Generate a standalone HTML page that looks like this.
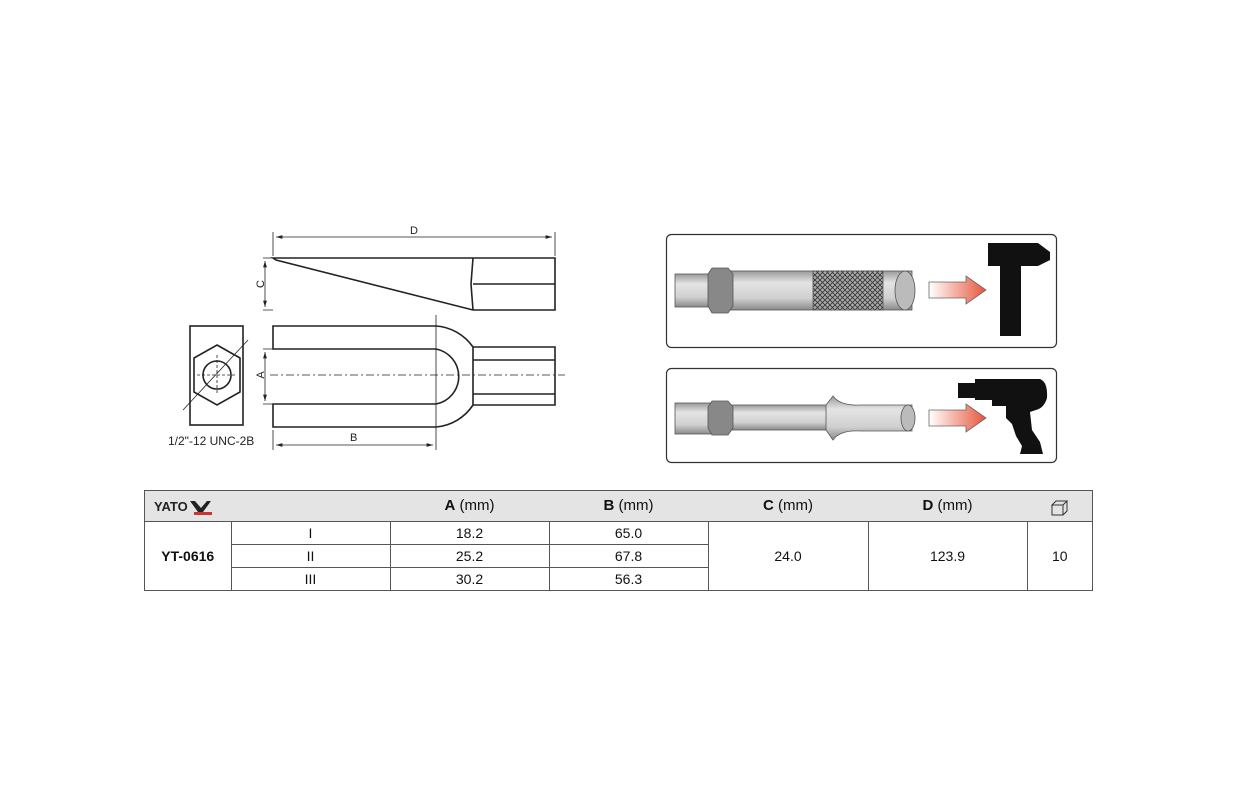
<!DOCTYPE html>
<html><head><meta charset="utf-8"><style>
body{margin:0;background:#fff;width:1234px;height:800px;overflow:hidden;font-family:"Liberation Sans",sans-serif}
svg{position:absolute;left:0;top:0;z-index:2}
table{position:absolute;left:144px;top:490px;width:949px;border-collapse:collapse;font-family:"Liberation Sans",sans-serif;font-size:14px;color:#111;z-index:1}
td{border:1px solid #555;text-align:center;padding:0;height:22px;line-height:22px}
tr.h td{background:#e4e4e4;height:30px;font-size:15px;border-left:none;border-right:none}
tr.h td:first-child{border-left:1px solid #555}
tr.h td:last-child{border-right:1px solid #555}
</style></head><body>
<table>
<tr class="h"><td style="width:86px"></td><td style="width:159px"></td><td style="width:159px"><b>A</b> (mm)</td><td style="width:159px"><b>B</b> (mm)</td><td style="width:160px"><b>C</b> (mm)</td><td style="width:159px"><b>D</b> (mm)</td><td></td></tr>
<tr><td rowspan="3"><b>YT-0616</b></td><td>I</td><td>18.2</td><td>65.0</td><td rowspan="3">24.0</td><td rowspan="3">123.9</td><td rowspan="3">10</td></tr>
<tr><td>II</td><td>25.2</td><td>67.8</td></tr>
<tr><td>III</td><td>30.2</td><td>56.3</td></tr>
</table>
<svg width="1234" height="800" viewBox="0 0 1234 800">
<defs>
<linearGradient id="sh" x1="0" y1="0" x2="0" y2="1"><stop offset="0" stop-color="#9a9a9a"/><stop offset=".3" stop-color="#e4e4e4"/><stop offset=".7" stop-color="#d0d0d0"/><stop offset="1" stop-color="#8a8a8a"/></linearGradient>
<linearGradient id="ar" x1="0" y1="0" x2="1" y2="0"><stop offset="0" stop-color="#fff"/><stop offset="1" stop-color="#e8553a"/></linearGradient>
<pattern id="kn" width="5" height="5" patternUnits="userSpaceOnUse"><rect width="5" height="5" fill="#aaa"/><path d="M0 0L5 5M5 0L0 5" stroke="#333" stroke-width=".8"/></pattern>
<marker id="m" viewBox="0 0 10 6" refX="10" refY="3" markerWidth="8" markerHeight="5" orient="auto-start-reverse"><path d="M0 0L10 3L0 6z" fill="#222"/></marker>
</defs>
<g stroke="#222" fill="none" stroke-width="1.6">
<path d="M273 258H555V310H473L276 260Z"/>
<path d="M473 258L471 284L473 310M473 284H555"/>
<path d="M273 326H436A49 49 0 0 1 473 347V405A49 49 0 0 1 436 427H273V404H436A28 28 0 0 0 436 349H273Z"/>
<path d="M473 347H555V405H473M473 360H555M473 394H555" />
<rect x="190" y="326" width="53" height="99"/>
<path d="M217 345L240 358V392L217 405L194 392V358Z"/>
<circle cx="217" cy="375" r="14"/>
</g>
<g stroke="#222" stroke-width=".8" fill="none">
<path d="M273 232V256M555 232V256M263 258H273M263 310H273M263 349H273M263 404H273M436 315V450M273 430V450"/>
<path d="M276 237H552" marker-start="url(#m)" marker-end="url(#m)"/>
<path d="M265 261V307" marker-start="url(#m)" marker-end="url(#m)"/>
<path d="M265 352V401" marker-start="url(#m)" marker-end="url(#m)"/>
<path d="M276 445H433" marker-start="url(#m)" marker-end="url(#m)"/>
<path d="M270 375H565" stroke-dasharray="8 3 2 3"/>
<path d="M217 355V395M197 375H237" stroke-dasharray="3 2"/>
<path d="M183 410L248 340"/>
</g>
<g font-size="11" fill="#222" font-family="Liberation Sans,sans-serif">
<text x="410" y="234">D</text><text x="350" y="441">B</text>
<text x="260" y="288" transform="rotate(-90 260 284)" text-anchor="middle">C</text>
<text x="260" y="379" transform="rotate(-90 260 375)" text-anchor="middle">A</text>
<text x="168" y="445" font-size="12">1/2"-12 UNC-2B</text>
</g>
<rect x="666.5" y="234.5" width="390" height="113" rx="5" fill="none" stroke="#333" stroke-width="1.2"/>
<rect x="666.5" y="368.5" width="390" height="94" rx="5" fill="none" stroke="#333" stroke-width="1.2"/>
<g stroke="#555" stroke-width=".8">
<rect x="675" y="274" width="36" height="33" fill="url(#sh)"/>
<rect x="728" y="271" width="184" height="39" fill="url(#sh)"/>
<rect x="813" y="271" width="70" height="39" fill="url(#kn)"/>
<ellipse cx="905" cy="290.5" rx="10" ry="19.5" fill="#bbb"/>
<path d="M712 268H728L733 274V306L728 313H712L708 306V274Z" fill="#888"/>
<rect x="675" y="403" width="36" height="31" fill="url(#sh)"/>
<rect x="728" y="405" width="100" height="25" fill="url(#sh)"/>
<path d="M826 405L833 396Q840 406 860 405H912V431H860Q840 430 833 440L826 430Z" fill="url(#sh)"/>
<ellipse cx="908" cy="418" rx="7" ry="13" fill="#bbb"/>
<path d="M712 401H728L733 407V428L728 435H712L708 428V407Z" fill="#888"/>
</g>
<path d="M929 282H966V276L986 290L966 304V298H929Z" fill="url(#ar)" stroke="#666" stroke-width=".8"/>
<path d="M929 410H966V404L986 418L966 432V426H929Z" fill="url(#ar)" stroke="#666" stroke-width=".8"/>
<path d="M988 243H1038L1050 252V260L1038 266H1021V336H1000V266H988Z" fill="#111"/>
<path d="M958 383H975V379H1040Q1048 382 1047 398Q1044 408 1036 410L1030 412L1032 430L1040 442L1043 454H1020L1022 446L1016 436L1012 424L1006 418V406H992V400H975V398H958Z" fill="#111"/>
<path d="M1052 505h11l4-4h-11zM1052 505v10h11v-10M1063 515l4-4v-10" fill="none" stroke="#333" stroke-width="1"/>
<text x="154" y="511" font-size="13" font-weight="bold" fill="#222" font-family="Liberation Sans,sans-serif">YATO</text>
<path d="M195 501l6 7 6-7h4l-8 11h-5l-8-11z" fill="#222"/><path d="M194 512h18v3h-18z" fill="#c33"/>
</svg>
</body></html>
